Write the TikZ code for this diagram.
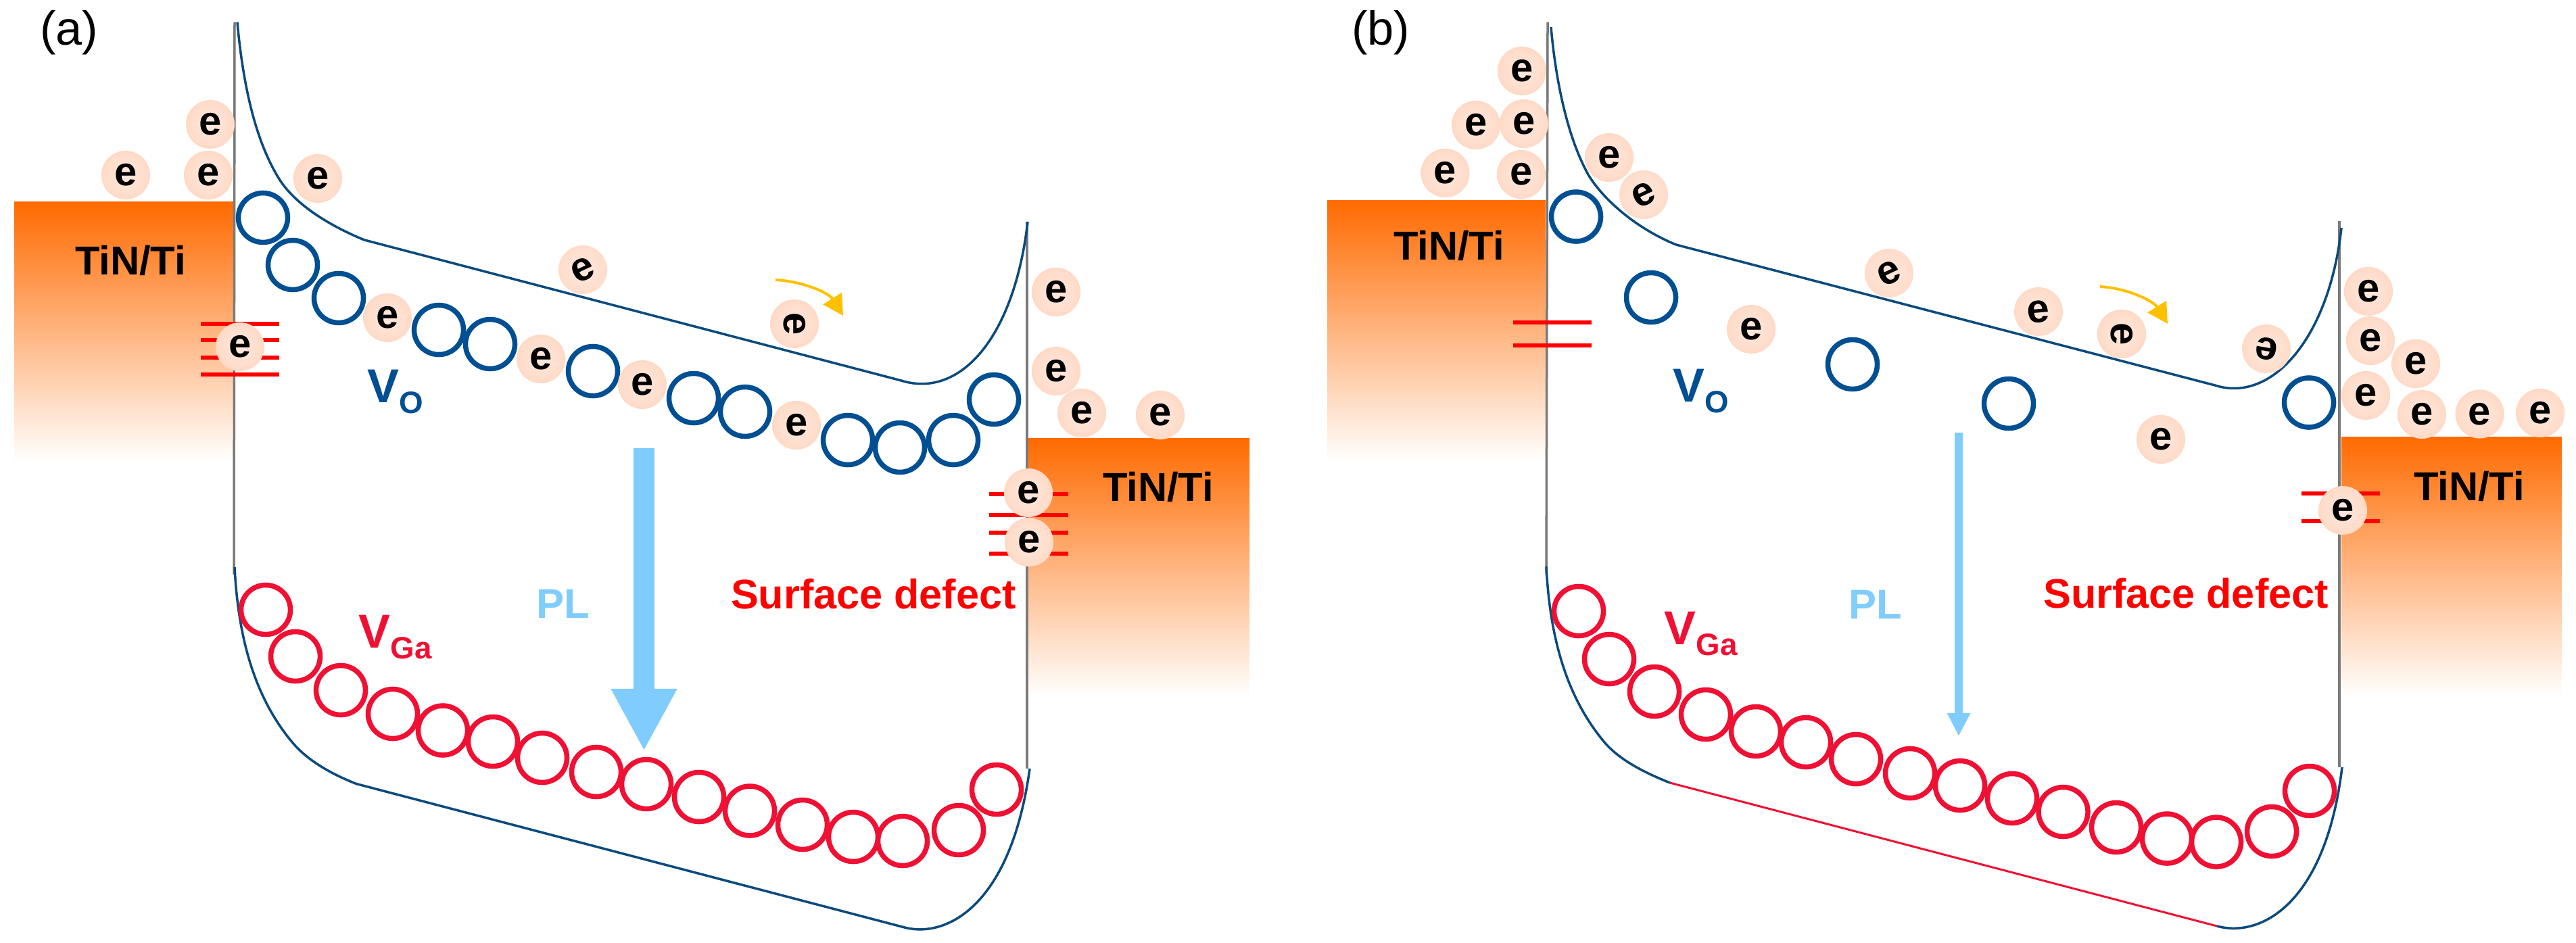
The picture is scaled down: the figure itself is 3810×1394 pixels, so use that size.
\documentclass[tikz,border=0pt]{standalone}
\usepackage{fontspec}
\setmainfont{Liberation Sans}
\usetikzlibrary{arrows.meta}
\definecolor{tin}{HTML}{FF6A00}
\definecolor{bandblue}{HTML}{0B4A7C}
\definecolor{vo}{HTML}{004F93}
\definecolor{vga}{HTML}{EF1033}
\definecolor{defect}{HTML}{FF0000}
\definecolor{plblue}{HTML}{80CCFF}
\definecolor{amber}{HTML}{FFC000}
\definecolor{ecore}{HTML}{FFE8DD}
\definecolor{emid}{HTML}{FFDCCA}
\definecolor{eedge}{HTML}{F8BC9C}
\pgfdeclareradialshading{eball}{\pgfpointorigin}{color(0bp)=(ecore); color(22bp)=(emid); color(50bp)=(eedge)}
\newcommand{\fs}[1]{\fontsize{#1}{#1}\selectfont}
\tikzset{
  x=0.01cm,y=-0.01cm,
  elec/.style={circle,minimum size=0.72cm,inner sep=0pt,shading=eball,text=black,font=\fs{17}\bfseries},
  voring/.style={circle,minimum size=0.73cm,inner sep=0pt,draw=vo,line width=0.075cm},
  garing/.style={circle,minimum size=0.73cm,inner sep=0pt,draw=vga,line width=0.075cm},
  metal/.style={top color=tin,bottom color=white},
  iface/.style={draw=black!52,line width=0.035cm},
  band/.style={draw=bandblue,line width=0.035cm},
  level/.style={draw=defect,line width=0.06cm},
  panel/.style={font=\fs{20},anchor=base},
  tinlab/.style={font=\fs{17}\bfseries,anchor=base,text=black},
  sdlab/.style={font=\fs{17.4}\bfseries,anchor=base,text=defect},
  pllab/.style={font=\fs{17.5}\bfseries,text=plblue},
  volab/.style={font=\fs{20}\bfseries,anchor=base west,text=vo,inner sep=0pt},
  galab/.style={font=\fs{20}\bfseries,anchor=base west,text=vga,inner sep=0pt},
  drift/.style={draw=amber,line width=0.04cm,-{Triangle[length=0.3cm,width=0.32cm]}},
}
\begin{document}
\begin{tikzpicture}
\useasboundingbox (0,0) rectangle (3810,1394);
% metal contacts
\shade[metal] (21,298) rectangle (346,683);
\shade[metal] (1521,648) rectangle (1848,1030);
\shade[metal] (1963,296) rectangle (2286,683);
\shade[metal] (3463,646) rectangle (3789,1030);
% interfaces
\coordinate (ifaT) at (347,33); \coordinate (ifaB) at (346,850);
\coordinate (ifaRT) at (1519,328); \coordinate (ifaRB) at (1519,1137);
\coordinate (ifbT) at (2289,33); \coordinate (ifbB) at (2287,850);
\coordinate (ifbRT) at (3460,327); \coordinate (ifbRB) at (3460,1135);
\draw[iface] (ifaT) -- (ifaB);
\draw[iface] (ifaRT) -- (ifaRB);
\draw[iface] (ifbT) -- (ifbB);
\draw[iface] (ifbRT) -- (ifbRB);
% defect levels
\foreach \y in {479,503,529,554} \draw[level] (297,\y) -- (413,\y);
\foreach \y in {731,762,788,819} \draw[level] (1463,\y) -- (1580,\y);
\foreach \y in {477,511} \draw[level] (2238,\y) -- (2354,\y);
\foreach \y in {730,771} \draw[level] (3404,\y) -- (3520,\y);
% bands panel a
\draw[band] (351,33) .. controls (358,110) and (374,205) .. (415,268)
  .. controls (440,305) and (490,335) .. (539,355) -- (1333,563)
  .. controls (1420,590) and (1500,500) .. (1520,328);
\draw[band] (347,839) .. controls (352,940) and (375,1030) .. (433,1099)
  .. controls (455,1125) and (490,1145) .. (527,1159.5) -- (1338,1372)
  .. controls (1400,1388) and (1495,1340) .. (1523,1137);
% bands panel b
\draw[band] (2294,40) .. controls (2300,110) and (2316,200) .. (2350,260)
  .. controls (2375,300) and (2425,340) .. (2479,362) -- (3276,570)
  .. controls (3360,597) and (3445,500) .. (3463,337);
\draw[band] (2287,838) .. controls (2292,939) and (2315,1029) .. (2373,1098)
  .. controls (2395,1124) and (2432,1143) .. (2470,1158);
\draw[draw=vga,line width=0.03cm] (2470,1158) -- (3279,1370);
\draw[band] (3279,1370) .. controls (3345,1388) and (3440,1335) .. (3464,1135);
% oxygen vacancies
\foreach \n/\x/\y in {1/389/322,2/433/392,3/501/441,4/649/488,5/725/509,6/877/549,7/1026/589,8/1102/609,9/1254/651,10/1331/662,11/1410/651,12/1470/591}
  \node[voring] (voa\n) at (\x,\y) {};
\foreach \n/\x/\y in {1/2331/320.5,2/2442/440,3/2740/539,4/2971/597,5/3415/595.5}
  \node[voring] (vob\n) at (\x,\y) {};
% gallium vacancies
\foreach \n/\x/\y in {1/393/902,2/437/971,3/504/1021,4/581/1056,5/655/1080.5,6/729/1097,7/802/1121,8/882/1142,9/956/1160,10/1034/1179,11/1109/1199.5,12/1187/1220,13/1262/1238,14/1335/1244,15/1418/1228,16/1474/1168}
  \node[garing] (gaa\n) at (\x,\y) {};
\foreach \n/\x/\y in {1/2335/904,2/2380/975,3/2447/1023,4/2523/1057,5/2597/1082,6/2671/1098,7/2745/1123,8/2825/1144,9/2899/1162,10/2976/1181,11/3051.5/1201,12/3130/1224,13/3205/1240.5,14/3278/1245.6,15/3360/1230,16/3416/1170}
  \node[garing] (gab\n) at (\x,\y) {};
% electrons panel a
\foreach \n/\x/\y/\r in {1/186/259/0,2/311/184/0,3/308/259/0,4/470/264/0,5/862/399/25,6/355/513/0,7/573/470/0,8/800/531/0,9/950/569/0,10/1175/479/-90,11/1178/629/0,12/1562/432/0,13/1562/549/0,14/1600/611/0,15/1716/614/0,16/1521/729/0,17/1522/802/0}
  \node[elec,rotate=\r] (ea\n) at (\x,\y) {e};
% electrons panel b
\foreach \n/\x/\y/\r in {1/2251/105/0,2/2183/185/0,3/2254/183/0,4/2137.5/256/0,5/2250/258/0,6/2380/233/0,7/2431/288/25,8/2590/487/0,9/2794/404/25,10/3015/461/5,11/3138/494/-90,12/3352/516/170,13/3503/431/0,14/3506/504/0,15/3573/538/0,16/3499/585/0,17/3582/613/0,18/3667.5/612.5/0,19/3757/611/0,20/3465/755/0,21/3196/650/0}
  \node[elec,rotate=\r] (eb\n) at (\x,\y) {e};
% drift arrows
\coordinate (da1) at (1147,414); \coordinate (da2) at (1247,467);
\coordinate (db1) at (3106,424); \coordinate (db2) at (3206,479);
\draw[drift] (da1) .. controls (1185,416) and (1225,432) .. (da2);
\draw[drift] (db1) .. controls (3144,426) and (3184,444) .. (db2);
% PL arrows
\coordinate (pa1) at (952.5,663); \coordinate (pa2) at (952.5,1111);
\coordinate (pb1) at (2897,640); \coordinate (pb2) at (2897,1089);
\draw[draw=plblue,line width=0.31cm,-{Triangle[length=0.92cm,width=0.91cm]}] (pa1) -- (pa2);
\draw[draw=plblue,line width=0.12cm,-{Triangle[length=0.34cm,width=0.32cm]}] (pb1) -- (pb2);
% labels
\node[panel] (la) at (102,67) {(a)};
\node[panel] (lb) at (2042,67) {(b)};
\node[tinlab] (t1) at (193,406) {TiN/Ti};
\node[tinlab] (t2) at (1713,741) {TiN/Ti};
\node[tinlab] (t3) at (2143,384) {TiN/Ti};
\node[tinlab] (t4) at (3652,740) {TiN/Ti};
\node[sdlab] (s1) at (1292,900) {Surface defect};
\node[sdlab] (s2) at (3233,899) {Surface defect};
\node[pllab] (p1) at (833,893) {PL};
\node[pllab] (p2) at (2774,894) {PL};
\node[volab] (v1) at (543,595) {V\raisebox{-4.8pt}{\fs{13}O}};
\node[volab] (v2) at (2474,594) {V\raisebox{-4.8pt}{\fs{13}O}};
\node[galab] (g1) at (530,958) {V\raisebox{-4.8pt}{\fs{13}Ga}};
\node[galab] (g2) at (2461,953) {V\raisebox{-4.8pt}{\fs{13}Ga}};
\end{tikzpicture}
\end{document}
